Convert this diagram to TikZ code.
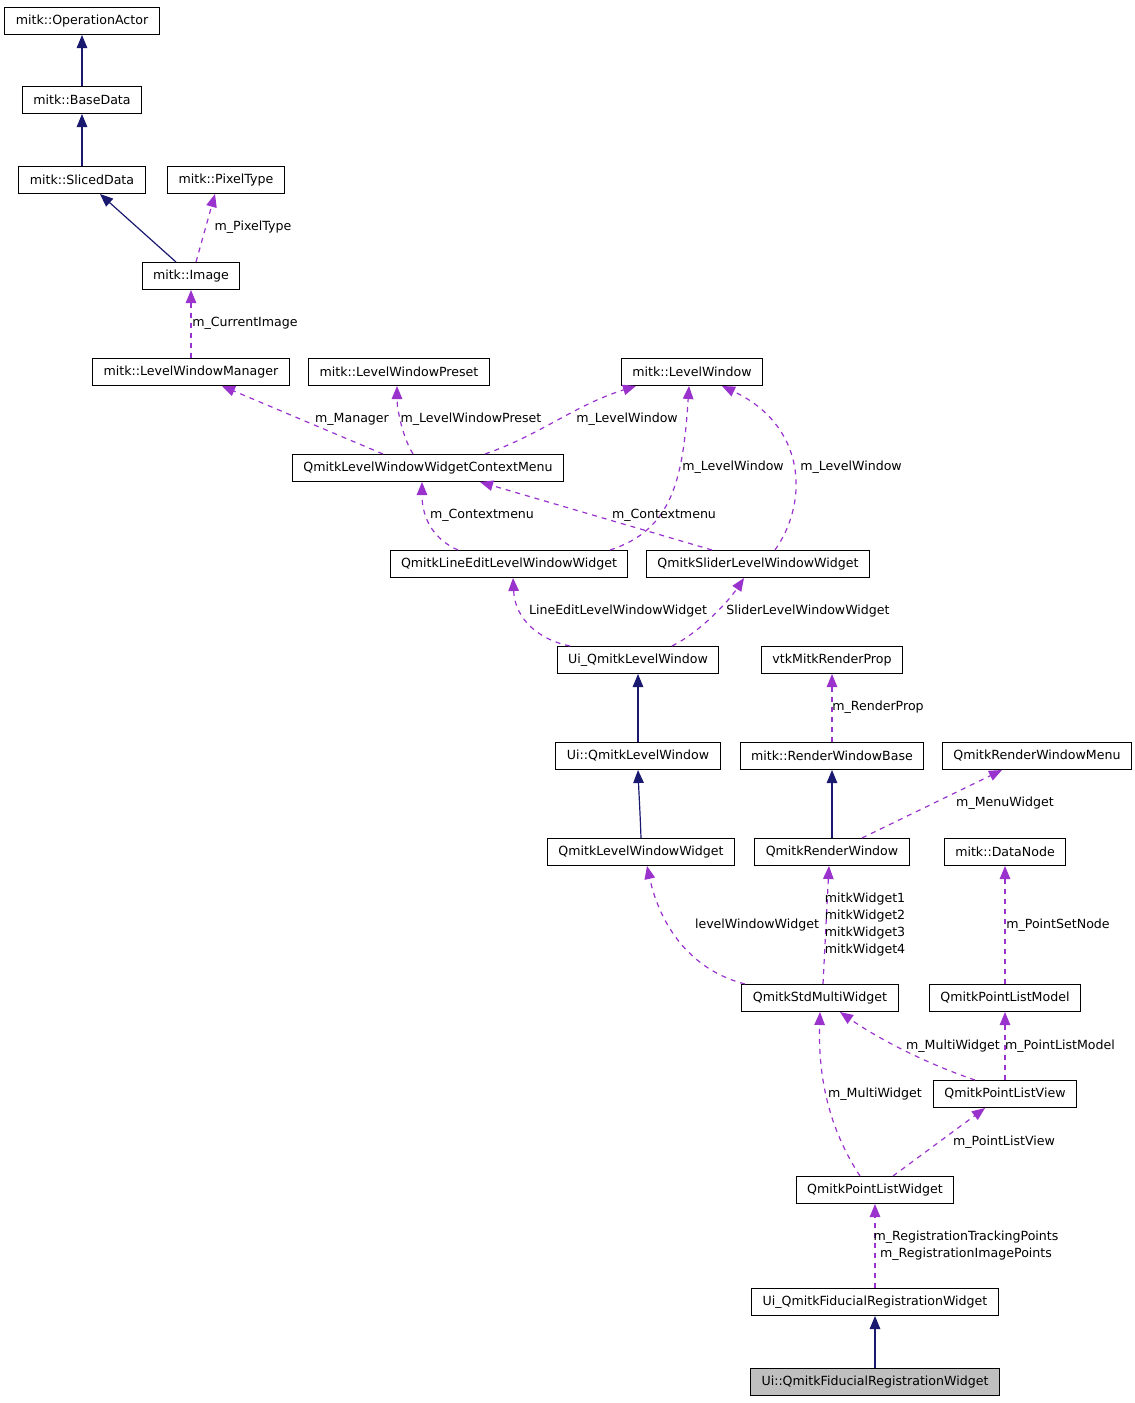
\documentclass[tikz,border=0pt]{standalone}
\usepackage{fontspec}
\setmainfont{DejaVu Sans}
\usetikzlibrary{arrows.meta}
\definecolor{inhcol}{HTML}{191970}
\definecolor{usecol}{HTML}{9A32CD}
\definecolor{curcol}{HTML}{BFBFBF}
\begin{document}
\begin{tikzpicture}[x=1pt,y=-1pt,
  cls/.style={draw=black,line width=1pt,minimum height=27pt,inner xsep=11pt,inner ysep=0pt,
    font=\fontsize{12.6}{17}\selectfont},
  curcls/.style={cls,fill=curcol},
  lbl/.style={font=\fontsize{12.6}{17}\selectfont,align=center,inner sep=0pt},
  inh/.style={draw=inhcol,line width=1.2pt,-{Triangle[length=13pt,width=10.5pt]}},
  use/.style={draw=usecol,line width=1.2pt,dash pattern=on 5pt off 5pt,
    -{Triangle[length=13pt,width=10.5pt]}}]
  \useasboundingbox (0,0) rectangle (1135,1403);
  % classes
  \node[cls] (oper) at (82,21) {mitk::OperationActor};
  \node[cls] (base) at (82,100) {mitk::BaseData};
  \node[cls] (sliced) at (82,180) {mitk::SlicedData};
  \node[cls] (pix) at (226,180) {mitk::PixelType};
  \node[cls] (img) at (191,276) {mitk::Image};
  \node[cls] (lwm) at (191,372) {mitk::LevelWindowManager};
  \node[cls] (preset) at (399,372) {mitk::LevelWindowPreset};
  \node[cls] (lw) at (692,372) {mitk::LevelWindow};
  \node[cls] (ctx) at (428,468) {QmitkLevelWindowWidgetContextMenu};
  \node[cls] (le) at (509,564) {QmitkLineEditLevelWindowWidget};
  \node[cls] (sl) at (758,564) {QmitkSliderLevelWindowWidget};
  \node[cls] (uilw) at (638,660) {Ui\_QmitkLevelWindow};
  \node[cls] (vtk) at (832,660) {vtkMitkRenderProp};
  \node[cls] (uilwc) at (638,756) {Ui::QmitkLevelWindow};
  \node[cls] (rwb) at (832,756) {mitk::RenderWindowBase};
  \node[cls] (menu) at (1037,756) {QmitkRenderWindowMenu};
  \node[cls] (lww) at (641,852) {QmitkLevelWindowWidget};
  \node[cls] (rw) at (832,852) {QmitkRenderWindow};
  \node[cls] (dn) at (1005,852) {mitk::DataNode};
  \node[cls] (smw) at (820,998) {QmitkStdMultiWidget};
  \node[cls] (plm) at (1005,998) {QmitkPointListModel};
  \node[cls] (plv) at (1005,1094) {QmitkPointListView};
  \node[cls] (plw) at (875,1190) {QmitkPointListWidget};
  \node[cls] (uif) at (875,1302) {Ui\_QmitkFiducialRegistrationWidget};
  \node[curcls] (uifc) at (875,1382) {Ui::QmitkFiducialRegistrationWidget};
  % inheritance
  \draw[inh] (base.north) -- (oper.south);
  \draw[inh] (sliced.north) -- (base.south);
  \draw[inh] ([xshift=-15pt]img.north) -- ([xshift=18pt]sliced.south);
  \draw[inh] (uilwc.north) -- (uilw.south);
  \draw[inh] (lww.north) .. controls (640,810) and (639,795) .. (uilwc.south);
  \draw[inh] (rw.north) -- (rwb.south);
  \draw[inh] (uifc.north) -- (uif.south);
  % usage
  \draw[use] ([xshift=5pt]img.north) -- ([xshift=-11pt]pix.south);
  \draw[use] (lwm.north) -- (img.south);
  \draw[use] ([xshift=-45pt]ctx.north) -- ([xshift=31pt]lwm.south);
  \draw[use] ([xshift=-15pt]ctx.north) .. controls (403,438) and (397,410) .. ([xshift=-2pt]preset.south);
  \draw[use] ([xshift=57pt]ctx.north) .. controls (540,435) and (575,405) .. ([xshift=-56pt]lw.south);
  \draw[use] ([xshift=-51pt]le.north) .. controls (435,540) and (422,520) .. ([xshift=-6pt]ctx.south);
  \draw[use] ([xshift=101pt]le.north) .. controls (672,530) and (683,480) .. ([xshift=-3pt]lw.south);
  \draw[use] ([xshift=-46pt]sl.north) -- ([xshift=52pt]ctx.south);
  \draw[use] ([xshift=17pt]sl.north) .. controls (810,500) and (805,425) .. ([xshift=30pt]lw.south);
  \draw[use] ([xshift=-68pt]uilw.north) .. controls (540,640) and (515,620) .. ([xshift=4pt]le.south);
  \draw[use] ([xshift=34pt]uilw.north) .. controls (700,632) and (728,602) .. ([xshift=-14pt]sl.south);
  \draw[use] (rwb.north) -- (vtk.south);
  \draw[use] ([xshift=30pt]rw.north) -- ([xshift=-35pt]menu.south);
  \draw[use] ([xshift=-75pt]smw.north) .. controls (690,970) and (660,925) .. ([xshift=6pt]lww.south);
  \draw[use] ([xshift=3pt]smw.north) -- ([xshift=-3pt]rw.south);
  \draw[use] (plm.north) -- (dn.south);
  \draw[use] ([xshift=-30pt]plv.north) .. controls (930,1065) and (880,1040) .. ([xshift=20pt]smw.south);
  \draw[use] (plv.north) -- (plm.south);
  \draw[use] ([xshift=-15pt]plw.north) .. controls (830,1130) and (818,1080) .. (smw.south);
  \draw[use] ([xshift=18pt]plw.north) -- ([xshift=-20pt]plv.south);
  \draw[use] (uif.north) -- (plw.south);
  % labels
  \node[lbl] (lpix) at (253,227) {m\_PixelType};
  \node[lbl] (limg) at (245,323) {m\_CurrentImage};
  \node[lbl] (lmgr) at (352,419) {m\_Manager};
  \node[lbl] (lpre) at (471,419) {m\_LevelWindowPreset};
  \node[lbl] (llwa) at (627,419) {m\_LevelWindow};
  \node[lbl] (llwb) at (733,467) {m\_LevelWindow};
  \node[lbl] (llwc) at (851,467) {m\_LevelWindow};
  \node[lbl] (lcma) at (482,515) {m\_Contextmenu};
  \node[lbl] (lcmb) at (664,515) {m\_Contextmenu};
  \node[lbl] (lle) at (618,611) {LineEditLevelWindowWidget};
  \node[lbl] (lsl) at (808,611) {SliderLevelWindowWidget};
  \node[lbl] (lrp) at (878,707) {m\_RenderProp};
  \node[lbl] (lmw) at (1005,803) {m\_MenuWidget};
  \node[lbl] (llww) at (757,925) {levelWindowWidget};
  \node[lbl] (lmitk) at (865,925) {mitkWidget1\\mitkWidget2\\mitkWidget3\\mitkWidget4};
  \node[lbl] (lpsn) at (1058,925) {m\_PointSetNode};
  \node[lbl] (lmua) at (953,1046) {m\_MultiWidget};
  \node[lbl] (lplm) at (1060,1046) {m\_PointListModel};
  \node[lbl] (lmub) at (875,1094) {m\_MultiWidget};
  \node[lbl] (lplv) at (1004,1142) {m\_PointListView};
  \node[lbl] (lreg) at (966,1246) {m\_RegistrationTrackingPoints\\m\_RegistrationImagePoints};
\end{tikzpicture}
\end{document}
